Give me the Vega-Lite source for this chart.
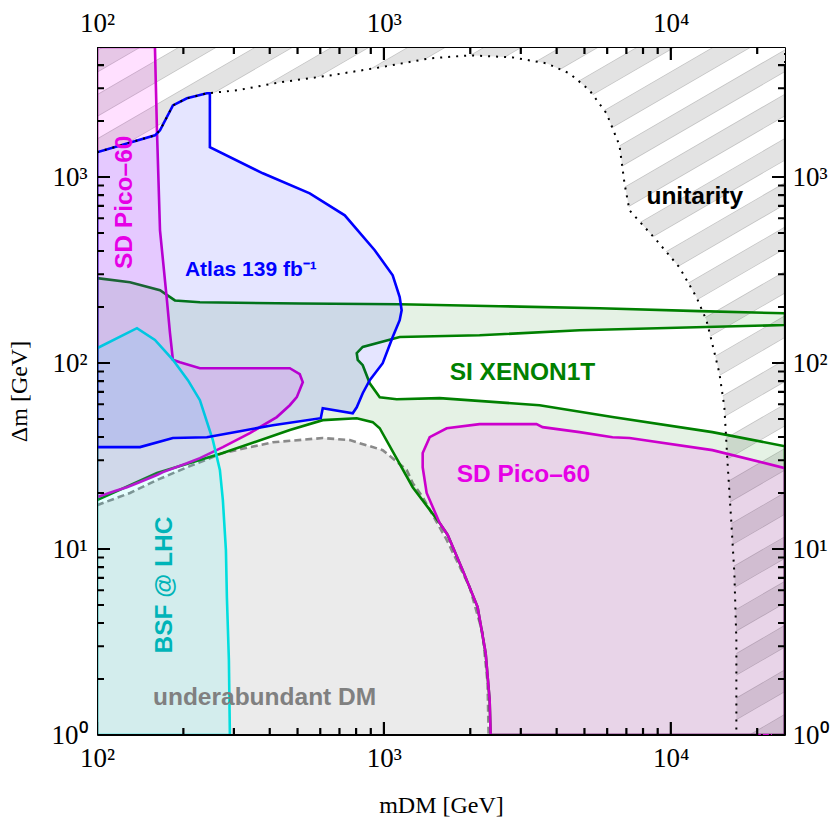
{
 "$schema": "https://vega.github.io/schema/vega-lite/v6.json",
 "width": 688, "height": 688,
 "autosize": {"type": "none"},
 "padding": {"left": 97, "top": 47, "right": 45, "bottom": 100},
 "background": "white",
 "config": {"view": {"stroke": null}},
 "resolve": {"axis": {"x": "independent", "y": "independent"}},
 "datasets": {
  "stripes": [
   {"x1":100,"y1":7230,"x2":25000,"y2":1010000},
   {"x1":100,"y1":4180,"x2":25000,"y2":585000},
   {"x1":100,"y1":2420,"x2":25000,"y2":338000},
   {"x1":100,"y1":1400,"x2":25000,"y2":195000},
   {"x1":100,"y1":807,"x2":25000,"y2":113000},
   {"x1":100,"y1":467,"x2":25000,"y2":65300},
   {"x1":100,"y1":270,"x2":25000,"y2":37800},
   {"x1":100,"y1":156,"x2":25000,"y2":21800},
   {"x1":100,"y1":90.2,"x2":25000,"y2":12600},
   {"x1":100,"y1":52.1,"x2":25000,"y2":7300},
   {"x1":100,"y1":30.1,"x2":25000,"y2":4220},
   {"x1":100,"y1":17.4,"x2":25000,"y2":2440},
   {"x1":100,"y1":10.1,"x2":25000,"y2":1410},
   {"x1":100,"y1":5.82,"x2":25000,"y2":815},
   {"x1":100,"y1":3.37,"x2":25000,"y2":471},
   {"x1":100,"y1":1.95,"x2":25000,"y2":272},
   {"x1":100,"y1":1.12,"x2":25000,"y2":157},
   {"x1":100,"y1":0.65,"x2":25000,"y2":91.0},
   {"x1":100,"y1":0.376,"x2":25000,"y2":52.6},
   {"x1":100,"y1":0.217,"x2":25000,"y2":30.4},
   {"x1":100,"y1":0.126,"x2":25000,"y2":17.6},
   {"x1":100,"y1":0.0726,"x2":25000,"y2":10.2},
   {"x1":100,"y1":0.042,"x2":25000,"y2":5.87},
   {"x1":100,"y1":0.0243,"x2":25000,"y2":3.4},
   {"x1":100,"y1":0.014,"x2":25000,"y2":1.96},
   {"x1":100,"y1":0.00811,"x2":25000,"y2":1.13},
   {"x1":100,"y1":0.00469,"x2":25000,"y2":0.656}
  ],
  "tb": [
   {"x":100,"y":1},{"x":100,"y":1.1745},{"x":100,"y":1},
   {"x":200,"y":1},{"x":200,"y":1.0905},{"x":200,"y":1},
   {"x":300,"y":1},{"x":300,"y":1.0905},{"x":300,"y":1},
   {"x":400,"y":1},{"x":400,"y":1.0905},{"x":400,"y":1},
   {"x":500,"y":1},{"x":500,"y":1.0905},{"x":500,"y":1},
   {"x":600,"y":1},{"x":600,"y":1.0905},{"x":600,"y":1},
   {"x":700,"y":1},{"x":700,"y":1.0905},{"x":700,"y":1},
   {"x":800,"y":1},{"x":800,"y":1.0905},{"x":800,"y":1},
   {"x":900,"y":1},{"x":900,"y":1.0905},{"x":900,"y":1},
   {"x":1000,"y":1},{"x":1000,"y":1.1745},{"x":1000,"y":1},
   {"x":2000,"y":1},{"x":2000,"y":1.0905},{"x":2000,"y":1},
   {"x":3000,"y":1},{"x":3000,"y":1.0905},{"x":3000,"y":1},
   {"x":4000,"y":1},{"x":4000,"y":1.0905},{"x":4000,"y":1},
   {"x":5000,"y":1},{"x":5000,"y":1.0905},{"x":5000,"y":1},
   {"x":6000,"y":1},{"x":6000,"y":1.0905},{"x":6000,"y":1},
   {"x":7000,"y":1},{"x":7000,"y":1.0905},{"x":7000,"y":1},
   {"x":8000,"y":1},{"x":8000,"y":1.0905},{"x":8000,"y":1},
   {"x":9000,"y":1},{"x":9000,"y":1.0905},{"x":9000,"y":1},
   {"x":10000,"y":1},{"x":10000,"y":1.1745},{"x":10000,"y":1},
   {"x":20000,"y":1},{"x":20000,"y":1.0905},{"x":20000,"y":1}
  ],
  "tt": [
   {"x":100,"y":5000},{"x":100,"y":4257},{"x":100,"y":5000},
   {"x":200,"y":5000},{"x":200,"y":4585},{"x":200,"y":5000},
   {"x":300,"y":5000},{"x":300,"y":4585},{"x":300,"y":5000},
   {"x":400,"y":5000},{"x":400,"y":4585},{"x":400,"y":5000},
   {"x":500,"y":5000},{"x":500,"y":4585},{"x":500,"y":5000},
   {"x":600,"y":5000},{"x":600,"y":4585},{"x":600,"y":5000},
   {"x":700,"y":5000},{"x":700,"y":4585},{"x":700,"y":5000},
   {"x":800,"y":5000},{"x":800,"y":4585},{"x":800,"y":5000},
   {"x":900,"y":5000},{"x":900,"y":4585},{"x":900,"y":5000},
   {"x":1000,"y":5000},{"x":1000,"y":4257},{"x":1000,"y":5000},
   {"x":2000,"y":5000},{"x":2000,"y":4585},{"x":2000,"y":5000},
   {"x":3000,"y":5000},{"x":3000,"y":4585},{"x":3000,"y":5000},
   {"x":4000,"y":5000},{"x":4000,"y":4585},{"x":4000,"y":5000},
   {"x":5000,"y":5000},{"x":5000,"y":4585},{"x":5000,"y":5000},
   {"x":6000,"y":5000},{"x":6000,"y":4585},{"x":6000,"y":5000},
   {"x":7000,"y":5000},{"x":7000,"y":4585},{"x":7000,"y":5000},
   {"x":8000,"y":5000},{"x":8000,"y":4585},{"x":8000,"y":5000},
   {"x":9000,"y":5000},{"x":9000,"y":4585},{"x":9000,"y":5000},
   {"x":10000,"y":5000},{"x":10000,"y":4257},{"x":10000,"y":5000},
   {"x":20000,"y":5000},{"x":20000,"y":4585},{"x":20000,"y":5000}
  ],
  "tl": [
   {"x":100,"y":1},{"x":111.0,"y":1},{"x":100,"y":1},
   {"x":100,"y":2},{"x":105.77,"y":2},{"x":100,"y":2},
   {"x":100,"y":3},{"x":105.77,"y":3},{"x":100,"y":3},
   {"x":100,"y":4},{"x":105.77,"y":4},{"x":100,"y":4},
   {"x":100,"y":5},{"x":105.77,"y":5},{"x":100,"y":5},
   {"x":100,"y":6},{"x":105.77,"y":6},{"x":100,"y":6},
   {"x":100,"y":7},{"x":105.77,"y":7},{"x":100,"y":7},
   {"x":100,"y":8},{"x":105.77,"y":8},{"x":100,"y":8},
   {"x":100,"y":9},{"x":105.77,"y":9},{"x":100,"y":9},
   {"x":100,"y":10},{"x":111.0,"y":10},{"x":100,"y":10},
   {"x":100,"y":20},{"x":105.77,"y":20},{"x":100,"y":20},
   {"x":100,"y":30},{"x":105.77,"y":30},{"x":100,"y":30},
   {"x":100,"y":40},{"x":105.77,"y":40},{"x":100,"y":40},
   {"x":100,"y":50},{"x":105.77,"y":50},{"x":100,"y":50},
   {"x":100,"y":60},{"x":105.77,"y":60},{"x":100,"y":60},
   {"x":100,"y":70},{"x":105.77,"y":70},{"x":100,"y":70},
   {"x":100,"y":80},{"x":105.77,"y":80},{"x":100,"y":80},
   {"x":100,"y":90},{"x":105.77,"y":90},{"x":100,"y":90},
   {"x":100,"y":100},{"x":111.0,"y":100},{"x":100,"y":100},
   {"x":100,"y":200},{"x":105.77,"y":200},{"x":100,"y":200},
   {"x":100,"y":300},{"x":105.77,"y":300},{"x":100,"y":300},
   {"x":100,"y":400},{"x":105.77,"y":400},{"x":100,"y":400},
   {"x":100,"y":500},{"x":105.77,"y":500},{"x":100,"y":500},
   {"x":100,"y":600},{"x":105.77,"y":600},{"x":100,"y":600},
   {"x":100,"y":700},{"x":105.77,"y":700},{"x":100,"y":700},
   {"x":100,"y":800},{"x":105.77,"y":800},{"x":100,"y":800},
   {"x":100,"y":900},{"x":105.77,"y":900},{"x":100,"y":900},
   {"x":100,"y":1000},{"x":111.0,"y":1000},{"x":100,"y":1000},
   {"x":100,"y":2000},{"x":105.77,"y":2000},{"x":100,"y":2000},
   {"x":100,"y":3000},{"x":105.77,"y":3000},{"x":100,"y":3000},
   {"x":100,"y":4000},{"x":105.77,"y":4000},{"x":100,"y":4000}
  ],
  "tr": [
   {"x":25000,"y":1},{"x":22525,"y":1},{"x":25000,"y":1},
   {"x":25000,"y":2},{"x":23636,"y":2},{"x":25000,"y":2},
   {"x":25000,"y":3},{"x":23636,"y":3},{"x":25000,"y":3},
   {"x":25000,"y":4},{"x":23636,"y":4},{"x":25000,"y":4},
   {"x":25000,"y":5},{"x":23636,"y":5},{"x":25000,"y":5},
   {"x":25000,"y":6},{"x":23636,"y":6},{"x":25000,"y":6},
   {"x":25000,"y":7},{"x":23636,"y":7},{"x":25000,"y":7},
   {"x":25000,"y":8},{"x":23636,"y":8},{"x":25000,"y":8},
   {"x":25000,"y":9},{"x":23636,"y":9},{"x":25000,"y":9},
   {"x":25000,"y":10},{"x":22525,"y":10},{"x":25000,"y":10},
   {"x":25000,"y":20},{"x":23636,"y":20},{"x":25000,"y":20},
   {"x":25000,"y":30},{"x":23636,"y":30},{"x":25000,"y":30},
   {"x":25000,"y":40},{"x":23636,"y":40},{"x":25000,"y":40},
   {"x":25000,"y":50},{"x":23636,"y":50},{"x":25000,"y":50},
   {"x":25000,"y":60},{"x":23636,"y":60},{"x":25000,"y":60},
   {"x":25000,"y":70},{"x":23636,"y":70},{"x":25000,"y":70},
   {"x":25000,"y":80},{"x":23636,"y":80},{"x":25000,"y":80},
   {"x":25000,"y":90},{"x":23636,"y":90},{"x":25000,"y":90},
   {"x":25000,"y":100},{"x":22525,"y":100},{"x":25000,"y":100},
   {"x":25000,"y":200},{"x":23636,"y":200},{"x":25000,"y":200},
   {"x":25000,"y":300},{"x":23636,"y":300},{"x":25000,"y":300},
   {"x":25000,"y":400},{"x":23636,"y":400},{"x":25000,"y":400},
   {"x":25000,"y":500},{"x":23636,"y":500},{"x":25000,"y":500},
   {"x":25000,"y":600},{"x":23636,"y":600},{"x":25000,"y":600},
   {"x":25000,"y":700},{"x":23636,"y":700},{"x":25000,"y":700},
   {"x":25000,"y":800},{"x":23636,"y":800},{"x":25000,"y":800},
   {"x":25000,"y":900},{"x":23636,"y":900},{"x":25000,"y":900},
   {"x":25000,"y":1000},{"x":22525,"y":1000},{"x":25000,"y":1000},
   {"x":25000,"y":2000},{"x":23636,"y":2000},{"x":25000,"y":2000},
   {"x":25000,"y":3000},{"x":23636,"y":3000},{"x":25000,"y":3000},
   {"x":25000,"y":4000},{"x":23636,"y":4000},{"x":25000,"y":4000}
  ],
  "mask": [
   {"x":80,"y":1358},{"x":100,"y":1358},{"x":159.2,"y":1675},{"x":165.8,"y":1782},{"x":183.9,"y":2427},{"x":205.8,"y":2649},{"x":241.5,"y":2818},{"x":307.3,"y":2924},{"x":433.7,"y":3228},{"x":647.5,"y":3516},{"x":967,"y":3882},{"x":1444,"y":4345},{"x":1990,"y":4508},{"x":2809,"y":4397},{"x":3689,"y":4083},{"x":4436,"y":3606},{"x":5208,"y":2924},{"x":5968,"y":2198},{"x":6623,"y":1479},{"x":6894,"y":925},{"x":7177,"y":662},{"x":8912,"y":457},{"x":10712,"y":327},{"x":12277,"y":226},{"x":13305,"y":170},{"x":13847,"y":133},{"x":14765,"y":88.1},{"x":15370,"y":57.8},{"x":15744,"y":30},{"x":16255,"y":13.8},{"x":16650,"y":7.42},{"x":16920,"y":3.24},{"x":16920,"y":0.8},{"x":80,"y":0.8}
  ],
  "dotted": [
   {"x":100,"y":1358},{"x":159.2,"y":1675},{"x":165.8,"y":1782},{"x":183.9,"y":2427},{"x":205.8,"y":2649},{"x":241.5,"y":2818},{"x":307.3,"y":2924},{"x":433.7,"y":3228},{"x":647.5,"y":3516},{"x":967,"y":3882},{"x":1444,"y":4345},{"x":1990,"y":4508},{"x":2809,"y":4397},{"x":3689,"y":4083},{"x":4436,"y":3606},{"x":5208,"y":2924},{"x":5968,"y":2198},{"x":6623,"y":1479},{"x":6894,"y":925},{"x":7177,"y":662},{"x":8912,"y":457},{"x":10712,"y":327},{"x":12277,"y":226},{"x":13305,"y":170},{"x":13847,"y":133},{"x":14765,"y":88.1},{"x":15370,"y":57.8},{"x":15744,"y":30},{"x":16255,"y":13.8},{"x":16650,"y":7.42},{"x":16920,"y":3.24},{"x":16920,"y":1},{"x":25000,"y":1},{"x":25000,"y":5000},{"x":100,"y":5000},{"x":100,"y":1358}
  ],
  "gray": [
   {"x":100,"y":17.2},{"x":130.3,"y":20.0},{"x":161.8,"y":23.5},{"x":210.8,"y":27.9},{"x":274.6,"y":32.8},{"x":410.1,"y":37.5},{"x":612.1,"y":39.5},{"x":760.2,"y":38.5},{"x":990.4,"y":34.0},{"x":1201,"y":26.6},{"x":1260,"y":22.6},{"x":1365,"y":19.0},{"x":1655,"y":11.2},{"x":1990,"y":6.24},{"x":2208,"y":3.53},{"x":2298,"y":1.9},{"x":2317,"y":1},{"x":100,"y":1}
  ],
  "dashed": [
   {"x":100,"y":17.2},{"x":130.3,"y":20.0},{"x":161.8,"y":23.5},{"x":210.8,"y":27.9},{"x":274.6,"y":32.8},{"x":410.1,"y":37.5},{"x":612.1,"y":39.5},{"x":760.2,"y":38.5},{"x":990.4,"y":34.0},{"x":1201,"y":26.6},{"x":1260,"y":22.6},{"x":1365,"y":19.0},{"x":1655,"y":11.2},{"x":1990,"y":6.24},{"x":2208,"y":3.53},{"x":2298,"y":1.9},{"x":2317,"y":1}
  ],
  "green": [
   {"x":100,"y":286},{"x":130.3,"y":272},{"x":165.8,"y":246},{"x":186.9,"y":217},{"x":228.4,"y":212},{"x":509,"y":209},{"x":1135,"y":207},{"x":2531,"y":202},{"x":5642,"y":197},{"x":12577,"y":190},{"x":25000,"y":185},
   {"x":25000,"y":160},{"x":4808,"y":150},{"x":2155,"y":141},{"x":1135,"y":138},{"x":843.7,"y":122},{"x":804,"y":113},{"x":810.4,"y":104},{"x":843.7,"y":97.3},{"x":892.5,"y":77.8},{"x":967,"y":65.5},{"x":1108,"y":63.9},{"x":1564,"y":64.7},{"x":3487,"y":59.3},{"x":6262,"y":51.2},{"x":13959,"y":42.5},{"x":25000,"y":35.7},
   {"x":25000,"y":1},{"x":2355,"y":1},{"x":2336,"y":1.54},{"x":2262,"y":2.76},{"x":2121,"y":4.87},{"x":1881,"y":7.7},{"x":1668,"y":11.9},{"x":1564,"y":13.8},{"x":1260,"y":21.5},{"x":967,"y":44.6},{"x":914.2,"y":48.1},{"x":804,"y":50.5},{"x":612.1,"y":49.3},{"x":469.9,"y":43.6},{"x":274.6,"y":32.8},{"x":161.8,"y":25.6},{"x":100,"y":18.3}
  ],
  "pinkL": [
   {"x":100,"y":5000},{"x":159.2,"y":5000},{"x":161.8,"y":1782},{"x":165.8,"y":517},{"x":175.3,"y":217},{"x":179.6,"y":145},{"x":183.9,"y":104},{"x":194.5,"y":101},{"x":228.4,"y":93.7},{"x":469.9,"y":93.7},{"x":509,"y":87.0},{"x":521.5,"y":78.9},{"x":497,"y":65.5},{"x":469.9,"y":59.3},{"x":423.4,"y":51.2},{"x":341,"y":42.0},{"x":274.6,"y":35.3},{"x":228.4,"y":30.8},{"x":205.8,"y":28.9},{"x":169.8,"y":25.9},{"x":161.8,"y":25.0},{"x":141.2,"y":22.9},{"x":127.2,"y":21.5},{"x":115.5,"y":20.5},{"x":100,"y":19.0}
  ],
  "pinkR": [
   {"x":1365,"y":27.5},{"x":1365,"y":32.8},{"x":1444,"y":39.9},{"x":1655,"y":44.6},{"x":2155,"y":46.9},{"x":3404,"y":46.9},{"x":3572,"y":45.2},{"x":4808,"y":42.5},{"x":6262,"y":39.9},{"x":7177,"y":39.5},{"x":13959,"y":34.0},{"x":25000,"y":27.2},{"x":25000,"y":1},{"x":2355,"y":1},{"x":2336,"y":1.54},{"x":2262,"y":2.76},{"x":2121,"y":4.87},{"x":1881,"y":7.7},{"x":1668,"y":11.9},{"x":1564,"y":13.8},{"x":1409,"y":20.0}
  ],
  "cyan": [
   {"x":100,"y":120},{"x":137.8,"y":154},{"x":159.2,"y":133},{"x":183.9,"y":104},{"x":207.4,"y":80.9},{"x":228.4,"y":63.1},{"x":253.4,"y":38.5},{"x":268.1,"y":26.6},{"x":274.6,"y":18.3},{"x":281.4,"y":9.86},{"x":283.6,"y":5.52},{"x":288.2,"y":2.53},{"x":290.5,"y":1},{"x":100,"y":1}
  ],
  "blue": [
   {"x":100,"y":1358},{"x":159.2,"y":1675},{"x":165.8,"y":1782},{"x":183.9,"y":2427},{"x":205.8,"y":2649},{"x":241.5,"y":2818},{"x":247.4,"y":2818},{"x":247.4,"y":1445},{"x":378.4,"y":1047},{"x":551.5,"y":817},{"x":730.4,"y":622},{"x":928.9,"y":404},{"x":1073,"y":296},{"x":1135,"y":226},{"x":1153,"y":192},{"x":1135,"y":170},{"x":1073,"y":138},{"x":990.4,"y":99.8},{"x":892.5,"y":80.9},{"x":843.7,"y":68.8},{"x":804,"y":57.8},{"x":778.7,"y":53.7},{"x":612.1,"y":57.1},{"x":602.4,"y":50.5},{"x":410.1,"y":46.3},{"x":314.8,"y":43.0},{"x":241.5,"y":39.9},{"x":183.9,"y":39.5},{"x":141.2,"y":35.3},{"x":100,"y":35.3}
  ]
 },
 "layer": [
  {"data":{"name":"stripes"},
   "mark":{"type":"rule","clip":true,"color":"#c4c4c4","strokeWidth":19.5,"strokeCap":"square"},
   "encoding":{
    "x":{"field":"x1","type":"quantitative","scale":{"type":"log","domain":[100,25000],"nice":false},
     "axis":{"orient":"bottom","values":[100,1000,10000],"labelExpr":"datum.value==100?'10²':datum.value==1000?'10³':'10⁴'","ticks":false,"domain":true,"domainColor":"#000","domainWidth":1,"grid":false,"labelFlush":false,"labelOverlap":false,"labelFont":"Liberation Serif","labelFontSize":27,"labelColor":"#000","labelPadding":10,"title":"mDM [GeV]","titleFont":"Liberation Serif","titleFontSize":24,"titleFontWeight":"normal","titleColor":"#000","titlePadding":22,"zindex":3}},
    "x2":{"field":"x2"},
    "y":{"field":"y1","type":"quantitative","scale":{"type":"log","domain":[1,5000],"nice":false},
     "axis":{"orient":"left","values":[1,10,100,1000],"labelExpr":"datum.value==1?'10⁰':datum.value==10?'10¹':datum.value==100?'10²':'10³'","ticks":false,"domain":true,"domainColor":"#000","domainWidth":1,"grid":false,"labelFlush":false,"labelOverlap":false,"labelFont":"Liberation Serif","labelFontSize":27,"labelColor":"#000","labelPadding":10,"title":"Δm [GeV]","titleFont":"Liberation Serif","titleFontSize":24,"titleFontWeight":"normal","titleColor":"#000","titlePadding":20,"zindex":3}},
    "y2":{"field":"y2"}}},
  {"data":{"name":"stripes"},
   "mark":{"type":"rule","clip":true,"color":"#e3e3e3","strokeWidth":18,"strokeCap":"square"},
   "encoding":{
    "x":{"field":"x1","type":"quantitative","scale":{"type":"log","domain":[100,25000],"nice":false},
     "axis":{"orient":"top","values":[100,1000,10000],"labelExpr":"datum.value==100?'10²':datum.value==1000?'10³':'10⁴'","ticks":false,"domain":true,"domainColor":"#000","domainWidth":1,"grid":false,"labelFlush":false,"labelOverlap":false,"labelFont":"Liberation Serif","labelFontSize":27,"labelColor":"#000","labelPadding":10,"title":null,"zindex":3}},
    "x2":{"field":"x2"},
    "y":{"field":"y1","type":"quantitative","scale":{"type":"log","domain":[1,5000],"nice":false},
     "axis":{"orient":"right","values":[1,10,100,1000],"labelExpr":"datum.value==1?'10⁰':datum.value==10?'10¹':datum.value==100?'10²':'10³'","ticks":false,"domain":true,"domainColor":"#000","domainWidth":1,"grid":false,"labelFlush":false,"labelOverlap":false,"labelFont":"Liberation Serif","labelFontSize":27,"labelColor":"#000","labelPadding":7,"title":null,"zindex":3}},
    "y2":{"field":"y2"}}},
  {"data":{"name":"mask"},
   "mark":{"type":"line","clip":true,"fill":"#ffffff","strokeOpacity":0,"interpolate":"linear-closed"},
   "encoding":{
    "x":{"field":"x","type":"quantitative","scale":{"type":"log","domain":[100,25000],"nice":false},"axis":null},
    "y":{"field":"y","type":"quantitative","scale":{"type":"log","domain":[1,5000],"nice":false},"axis":null},
    "order":{"value":null}}},
  {"data":{"name":"gray"},
   "mark":{"type":"line","clip":true,"fill":"#ebebeb","strokeOpacity":0,"interpolate":"linear-closed"},
   "encoding":{
    "x":{"field":"x","type":"quantitative","scale":{"type":"log","domain":[100,25000],"nice":false},"axis":null},
    "y":{"field":"y","type":"quantitative","scale":{"type":"log","domain":[1,5000],"nice":false},"axis":null},
    "order":{"value":null}}},
  {"data":{"name":"dashed"},
   "mark":{"type":"line","clip":true,"stroke":"#8a8a8a","strokeWidth":2.6,"strokeDash":[7,4]},
   "encoding":{
    "x":{"field":"x","type":"quantitative","scale":{"type":"log","domain":[100,25000],"nice":false},"axis":null},
    "y":{"field":"y","type":"quantitative","scale":{"type":"log","domain":[1,5000],"nice":false},"axis":null},
    "order":{"value":null}}},
  {"data":{"name":"green"},
   "mark":{"type":"line","clip":true,"fill":"#008000","fillOpacity":0.1,"stroke":"#008000","strokeWidth":2.6,"interpolate":"linear-closed"},
   "encoding":{
    "x":{"field":"x","type":"quantitative","scale":{"type":"log","domain":[100,25000],"nice":false},"axis":null},
    "y":{"field":"y","type":"quantitative","scale":{"type":"log","domain":[1,5000],"nice":false},"axis":null},
    "order":{"value":null}}},
  {"data":{"name":"pinkL"},
   "mark":{"type":"line","clip":true,"fill":"#ff00ff","fillOpacity":0.12,"stroke":"#cc00cc","strokeWidth":2.6,"interpolate":"linear-closed"},
   "encoding":{
    "x":{"field":"x","type":"quantitative","scale":{"type":"log","domain":[100,25000],"nice":false},"axis":null},
    "y":{"field":"y","type":"quantitative","scale":{"type":"log","domain":[1,5000],"nice":false},"axis":null},
    "order":{"value":null}}},
  {"data":{"name":"pinkR"},
   "mark":{"type":"line","clip":true,"fill":"#ff00ff","fillOpacity":0.12,"stroke":"#cc00cc","strokeWidth":2.6,"interpolate":"linear-closed"},
   "encoding":{
    "x":{"field":"x","type":"quantitative","scale":{"type":"log","domain":[100,25000],"nice":false},"axis":null},
    "y":{"field":"y","type":"quantitative","scale":{"type":"log","domain":[1,5000],"nice":false},"axis":null},
    "order":{"value":null}}},
  {"data":{"name":"cyan"},
   "mark":{"type":"line","clip":true,"fill":"#00ffff","fillOpacity":0.1,"stroke":"#00dede","strokeWidth":2.6,"interpolate":"linear-closed"},
   "encoding":{
    "x":{"field":"x","type":"quantitative","scale":{"type":"log","domain":[100,25000],"nice":false},"axis":null},
    "y":{"field":"y","type":"quantitative","scale":{"type":"log","domain":[1,5000],"nice":false},"axis":null},
    "order":{"value":null}}},
  {"data":{"name":"blue"},
   "mark":{"type":"line","clip":true,"fill":"#0000ff","fillOpacity":0.1,"stroke":"#0000ff","strokeWidth":2.6,"interpolate":"linear-closed"},
   "encoding":{
    "x":{"field":"x","type":"quantitative","scale":{"type":"log","domain":[100,25000],"nice":false},"axis":null},
    "y":{"field":"y","type":"quantitative","scale":{"type":"log","domain":[1,5000],"nice":false},"axis":null},
    "order":{"value":null}}},
  {"data":{"name":"dotted"},
   "mark":{"type":"line","clip":true,"stroke":"#000000","strokeWidth":2,"strokeDash":[2,6]},
   "encoding":{
    "x":{"field":"x","type":"quantitative","scale":{"type":"log","domain":[100,25000],"nice":false},"axis":null},
    "y":{"field":"y","type":"quantitative","scale":{"type":"log","domain":[1,5000],"nice":false},"axis":null},
    "order":{"value":null}}},
  {"data":{"values":[{"x":125.2,"y":731,"t":"SD Pico–60"}]},
   "mark":{"type":"text","font":"Liberation Sans","fontWeight":"bold","fontSize":24.5,"color":"#e600e6","align":"center","baseline":"middle","angle":270},
   "encoding":{"x":{"field":"x","type":"quantitative","scale":{"type":"log","domain":[100,25000],"nice":false},"axis":null},"y":{"field":"y","type":"quantitative","scale":{"type":"log","domain":[1,5000],"nice":false},"axis":null},"text":{"field":"t"}}},
  {"data":{"values":[{"x":172.5,"y":6.4,"t":"BSF @ LHC"}]},
   "mark":{"type":"text","font":"Liberation Sans","fontWeight":"bold","fontSize":24.5,"color":"#00b4b8","align":"center","baseline":"middle","angle":270},
   "encoding":{"x":{"field":"x","type":"quantitative","scale":{"type":"log","domain":[100,25000],"nice":false},"axis":null},"y":{"field":"y","type":"quantitative","scale":{"type":"log","domain":[1,5000],"nice":false},"axis":null},"text":{"field":"t"}}},
  {"data":{"values":[{"x":202.5,"y":315,"t":"Atlas 139 fb⁻¹"}]},
   "mark":{"type":"text","font":"Liberation Sans","fontWeight":"bold","fontSize":21,"color":"#0000ff","align":"left","baseline":"middle"},
   "encoding":{"x":{"field":"x","type":"quantitative","scale":{"type":"log","domain":[100,25000],"nice":false},"axis":null},"y":{"field":"y","type":"quantitative","scale":{"type":"log","domain":[1,5000],"nice":false},"axis":null},"text":{"field":"t"}}},
  {"data":{"values":[{"x":8222,"y":778,"t":"unitarity"}]},
   "mark":{"type":"text","font":"Liberation Sans","fontWeight":"bold","fontSize":24.5,"color":"#000000","align":"left","baseline":"middle"},
   "encoding":{"x":{"field":"x","type":"quantitative","scale":{"type":"log","domain":[100,25000],"nice":false},"axis":null},"y":{"field":"y","type":"quantitative","scale":{"type":"log","domain":[1,5000],"nice":false},"axis":null},"text":{"field":"t"}}},
  {"data":{"values":[{"x":1695,"y":88.1,"t":"SI XENON1T"}]},
   "mark":{"type":"text","font":"Liberation Sans","fontWeight":"bold","fontSize":24.5,"color":"#008000","align":"left","baseline":"middle"},
   "encoding":{"x":{"field":"x","type":"quantitative","scale":{"type":"log","domain":[100,25000],"nice":false},"axis":null},"y":{"field":"y","type":"quantitative","scale":{"type":"log","domain":[1,5000],"nice":false},"axis":null},"text":{"field":"t"}}},
  {"data":{"values":[{"x":1793,"y":25.0,"t":"SD Pico–60"}]},
   "mark":{"type":"text","font":"Liberation Sans","fontWeight":"bold","fontSize":24.5,"color":"#e600e6","align":"left","baseline":"middle"},
   "encoding":{"x":{"field":"x","type":"quantitative","scale":{"type":"log","domain":[100,25000],"nice":false},"axis":null},"y":{"field":"y","type":"quantitative","scale":{"type":"log","domain":[1,5000],"nice":false},"axis":null},"text":{"field":"t"}}},
  {"data":{"values":[{"x":156.7,"y":1.58,"t":"underabundant DM"}]},
   "mark":{"type":"text","font":"Liberation Sans","fontWeight":"bold","fontSize":24.5,"color":"#808080","align":"left","baseline":"middle"},
   "encoding":{"x":{"field":"x","type":"quantitative","scale":{"type":"log","domain":[100,25000],"nice":false},"axis":null},"y":{"field":"y","type":"quantitative","scale":{"type":"log","domain":[1,5000],"nice":false},"axis":null},"text":{"field":"t"}}},
  {"data":{"name":"tb"},
   "mark":{"type":"line","clip":true,"stroke":"#000000","strokeWidth":2.2},
   "encoding":{
    "x":{"field":"x","type":"quantitative","scale":{"type":"log","domain":[100,25000],"nice":false},"axis":null},
    "y":{"field":"y","type":"quantitative","scale":{"type":"log","domain":[1,5000],"nice":false},"axis":null},
    "order":{"value":null}}},
  {"data":{"name":"tt"},
   "mark":{"type":"line","clip":true,"stroke":"#000000","strokeWidth":2.2},
   "encoding":{
    "x":{"field":"x","type":"quantitative","scale":{"type":"log","domain":[100,25000],"nice":false},"axis":null},
    "y":{"field":"y","type":"quantitative","scale":{"type":"log","domain":[1,5000],"nice":false},"axis":null},
    "order":{"value":null}}},
  {"data":{"name":"tl"},
   "mark":{"type":"line","clip":true,"stroke":"#000000","strokeWidth":2.2},
   "encoding":{
    "x":{"field":"x","type":"quantitative","scale":{"type":"log","domain":[100,25000],"nice":false},"axis":null},
    "y":{"field":"y","type":"quantitative","scale":{"type":"log","domain":[1,5000],"nice":false},"axis":null},
    "order":{"value":null}}},
  {"data":{"name":"tr"},
   "mark":{"type":"line","clip":true,"stroke":"#000000","strokeWidth":2.2},
   "encoding":{
    "x":{"field":"x","type":"quantitative","scale":{"type":"log","domain":[100,25000],"nice":false},"axis":null},
    "y":{"field":"y","type":"quantitative","scale":{"type":"log","domain":[1,5000],"nice":false},"axis":null},
    "order":{"value":null}}}
 ]
}
